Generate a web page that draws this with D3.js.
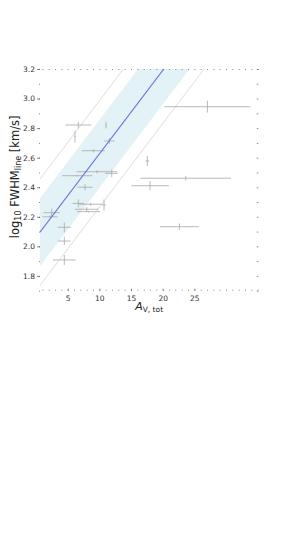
<!DOCTYPE html>
<html>
<head>
<meta charset="utf-8">
<script src="https://cdn.jsdelivr.net/npm/d3@7"></script>
<style>
  body { margin: 0; background: #fff; }
  text { font-family: "DejaVu Sans", sans-serif; }
</style>
</head>
<body>
<div id="chart"></div>
<script>
// measured values, one entry per source
const avTot     = [6.68, 6.16, 11.06, 11.58, 9.05, 9.6, 11.96, 6.5, 7.74, 6.68, 8.64, 10.74, 8.0, 8.3, 2.48, 2.21, 4.47, 4.47, 4.47, 27.06, 17.58, 23.65, 18.0, 22.64];
const avErr     = [2.05, 0.1, 0.1, 0.8, 1.84, 3.2, 1.0, 2.4, 1.2, 0.9, 1.85, 0.3, 1.85, 1.85, 1.3, 1.2, 1.05, 1.0, 1.8, 6.77, 0.3, 7.14, 2.97, 3.08];
const logFwhm   = [2.821, 2.742, 2.82, 2.713, 2.647, 2.505, 2.494, 2.478, 2.40, 2.291, 2.285, 2.28, 2.251, 2.235, 2.228, 2.20, 2.129, 2.036, 1.908, 2.945, 2.578, 2.461, 2.41, 2.133];
const logFwhmErr = [0.022, 0.04, 0.022, 0.02, 0.01, 0.01, 0.025, 0.005, 0.02, 0.027, 0.01, 0.037, 0.015, 0.005, 0.028, 0.01, 0.034, 0.028, 0.034, 0.04, 0.034, 0.016, 0.032, 0.022];

// fit: log FWHM = a + b * A_V
const fitA = 2.06;
const fitB = 0.0565;
const bandHalf = 0.23;
const outerHalf = 0.36;

const xTicks = [5, 10, 15, 20, 25];
const yTicks = [1.8, 2.0, 2.2, 2.4, 2.6, 2.8, 3.0, 3.2];

const W = 287, H = 541;
const plot = {left: 40, right: 258.3, top: 69, bottom: 290.7};

const x = d3.scaleLinear().domain([0.63, 35.1]).range([plot.left, plot.right]);
const y = d3.scaleLinear().domain([1.7, 3.2]).range([plot.bottom, plot.top]);

const svg = d3.select("#chart").append("svg")
    .attr("width", W)
    .attr("height", H);

svg.append("clipPath").attr("id", "clip")
  .append("rect")
    .attr("x", plot.left).attr("y", plot.top)
    .attr("width", plot.right - plot.left)
    .attr("height", plot.bottom - plot.top);

const g = svg.append("g").attr("clip-path", "url(#clip)");

const xs = [0.63, 35.1];
const fit = v => fitA + fitB * v;

// shaded band
g.append("path")
    .datum(xs)
    .attr("d", d3.area()
        .x(d => x(d))
        .y0(d => y(fit(d) - bandHalf))
        .y1(d => y(fit(d) + bandHalf)))
    .attr("fill", "#e3f2f6");

// outer thin lines
[outerHalf, -outerHalf].forEach(off => {
  g.append("path")
      .datum(xs)
      .attr("d", d3.line().x(d => x(d)).y(d => y(fit(d) + off)))
      .attr("fill", "none")
      .attr("stroke", "#cfcfcf")
      .attr("stroke-width", 0.7);
});

// error bars
const pts = avTot.map((v, i) => ({x: v, xe: avErr[i], y: logFwhm[i], ye: logFwhmErr[i]}));
const eb = g.append("g").attr("stroke", "#a8a8a8").attr("stroke-width", 0.8);
eb.selectAll(".h").data(pts).enter().append("line")
    .attr("x1", d => x(d.x - d.xe)).attr("x2", d => x(d.x + d.xe))
    .attr("y1", d => y(d.y)).attr("y2", d => y(d.y));
eb.selectAll(".v").data(pts).enter().append("line")
    .attr("x1", d => x(d.x)).attr("x2", d => x(d.x))
    .attr("y1", d => y(d.y - d.ye)).attr("y2", d => y(d.y + d.ye));

// fit line
g.append("path")
    .datum(xs)
    .attr("d", d3.line().x(d => x(d)).y(d => y(fit(d))))
    .attr("fill", "none")
    .attr("stroke", "#7070e2")
    .attr("stroke-width", 1.1);

// axes: inward ticks on all four sides, no spines
function styleAxis(sel) {
  sel.select(".domain").remove();
  sel.selectAll(".tick line").attr("stroke", "#555").attr("stroke-width", 0.7);
  sel.selectAll(".tick text").attr("fill", "#333").attr("font-size", "7.5px")
      .attr("font-family", "DejaVu Sans, sans-serif");
}
const xMinor = d3.range(1, 36);
const yMinor = d3.range(17, 33).map(d => d / 10);

svg.append("g").attr("transform", `translate(0,${plot.bottom})`)
    .call(d3.axisBottom(x).tickValues(xMinor).tickSize(-1).tickFormat(""))
    .call(styleAxis);
svg.append("g").attr("transform", `translate(0,${plot.bottom})`)
    .call(d3.axisBottom(x).tickValues(xTicks).tickSize(-2).tickPadding(5).tickFormat(d3.format("d")))
    .call(styleAxis);
svg.append("g").attr("transform", `translate(0,${plot.top})`)
    .call(d3.axisTop(x).tickValues(xMinor).tickSize(-1).tickFormat(""))
    .call(styleAxis);

svg.append("g").attr("transform", `translate(${plot.left},0)`)
    .call(d3.axisLeft(y).tickValues(yMinor).tickSize(1).tickFormat(""))
    .call(styleAxis);
svg.append("g").attr("transform", `translate(${plot.left},0)`)
    .call(d3.axisLeft(y).tickValues(yTicks).tickSize(3).tickPadding(2).tickFormat(d3.format(".1f")))
    .call(styleAxis);
svg.append("g").attr("transform", `translate(${plot.right},0)`)
    .call(d3.axisRight(y).tickValues(yMinor).tickSize(-1.5).tickFormat(""))
    .call(styleAxis);

// axis labels
const cx = (plot.left + plot.right) / 2;
const xl = svg.append("text")
    .attr("x", cx).attr("y", 310)
    .attr("text-anchor", "middle")
    .attr("font-size", "11px")
    .attr("fill", "#222");
xl.append("tspan").attr("font-style", "italic").text("A");
xl.append("tspan").attr("font-size", "7.5px").attr("dy", 2).text("V, tot");

const cy = (plot.top + plot.bottom) / 2 - 3;
const yl = svg.append("text")
    .attr("transform", `translate(19,${cy}) rotate(-90)`)
    .attr("text-anchor", "middle")
    .attr("font-size", "11.5px")
    .attr("fill", "#222");
yl.append("tspan").text("log");
yl.append("tspan").attr("font-size", "8px").attr("dy", 2).text("10");
yl.append("tspan").attr("dy", -2).text(" FWHM");
yl.append("tspan").attr("font-size", "8px").attr("dy", 2).text("line");
yl.append("tspan").attr("dy", -2).text(" [km/s]");
</script>
</body>
</html>
